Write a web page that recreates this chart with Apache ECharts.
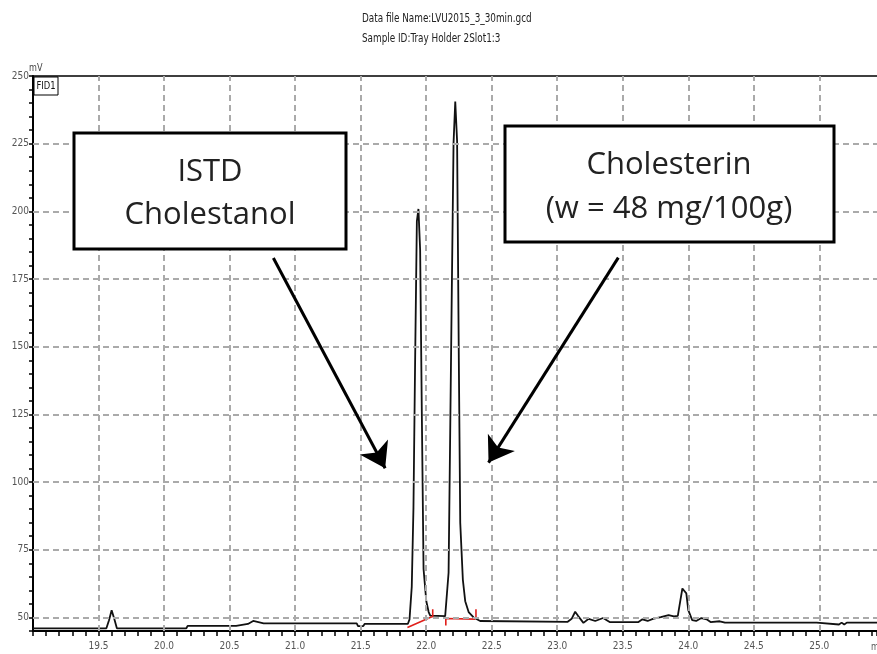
<!DOCTYPE html>
<html>
<head>
<meta charset="utf-8">
<script src="https://cdn.jsdelivr.net/npm/echarts@6.0.0/dist/echarts.min.js"></script>
<style>
  html, body { margin: 0; padding: 0; background: #fff; }
  #chart { width: 877px; height: 654px; }
</style>
</head>
<body>
<div id="chart"></div>
<script>
// retention time (min) and detector signal (mV)
var traceT = [19.00, 19.36, 19.37, 19.38, 19.56, 19.58, 19.60, 19.62, 19.64, 20.17, 20.18, 20.55, 20.56, 20.64,
  20.68, 20.72, 20.76, 21.01, 21.02, 21.03, 21.47, 21.48, 21.52, 21.53, 21.86, 21.873, 21.890, 21.903, 21.916,
  21.929, 21.941, 21.954, 21.967, 21.980, 22.001, 22.019, 22.031, 22.145, 22.158, 22.171, 22.183, 22.196,
  22.209, 22.222, 22.236, 22.249, 22.260, 22.280, 22.298, 22.324, 22.362, 22.412, 22.42, 23.08, 23.11,
  23.137, 23.16, 23.20, 23.24, 23.29, 23.35, 23.40, 23.62, 23.65, 23.69, 23.73, 23.79, 23.85, 23.89, 23.92,
  23.94, 23.955, 23.97, 23.985, 24.00, 24.03, 24.06, 24.10, 24.14, 24.17, 24.24, 24.28, 24.98, 24.995,
  25.15, 25.17, 25.19, 25.21, 25.44];
var traceV = [46.0, 46.0, 46.6, 46.0, 46.0, 49.0, 52.7, 49.5, 46.0, 46.0, 46.9, 46.9, 47.5, 47.6,
  48.7, 48.3, 47.8, 47.8, 48.2, 47.8, 47.8, 46.8, 46.8, 47.6, 47.6, 49.3, 61.3, 90.4, 146,
  196.3, 200.9, 185.7, 124.8, 67.9, 56, 52, 50.7, 50.5, 50.7, 66.5, 116.8, 172.4,
  225.4, 240.6, 226, 146, 85, 63.9, 56, 52, 50, 48.7, 48.4, 48.4, 49.5,
  52.1, 50.5, 48.0, 49.5, 48.7, 49.8, 48.3, 48.3, 49.3, 48.7, 49.5, 50.1, 50.9, 50.4, 50.6,
  56.4, 60.7, 61.1, 58.9, 52.7, 49.0, 48.7, 49.8, 49.3, 48.3, 48.6, 48.1, 48.1, 47.4,
  47.4, 48.1, 47.4, 48.1, 48.1];

// integration baselines (red), null breaks the line
var baseT = [21.857, 22.043, null, 22.05, 22.05, null, 22.145, 22.374, null, 22.15, 22.15, null, 22.38, 22.38];
var baseV = [46.3, 50.3, null, 50.0, 53.0, null, 49.6, 49.4, null, 49.6, 47.0, null, 49.5, 53.0];

// axis ticks
var xGrid = [19.5, 20.0, 20.5, 21.0, 21.5, 22.0, 22.5, 23.0, 23.5, 24.0, 24.5, 25.0];
var yGrid = [50, 75, 100, 125, 150, 175, 200, 225];

// arrows: [tailT, tailV, tipT, tipV]
var arrows = [
  [20.834, 182.8, 21.687, 105.1],
  [23.466, 182.9, 22.476, 107.2]
];

var titleLines = ['Data file Name:LVU2015_3_30min.gcd', 'Sample ID:Tray Holder 2Slot1:3'];
var box1 = ['ISTD', 'Cholestanol'];
var box2 = ['Cholesterin', '(w = 48 mg/100g)'];

var narrow = "'Liberation Sans Narrow', 'DejaVu Sans Condensed', sans-serif";
var boxFont = "'Open Sans', sans-serif";

function pairs(a, b) {
  return a.map(function (v, i) { return v === null ? [null, null] : [v, b[i]]; });
}

var chart = echarts.init(document.getElementById('chart'));

var gridLines = [];
xGrid.forEach(function (x) { gridLines.push({ xAxis: x }); });
yGrid.forEach(function (y) { gridLines.push({ yAxis: y }); });

var arrowLines = arrows.map(function (a) {
  return [{ coord: [a[0], a[1]] }, { coord: [a[2], a[3]] }];
});

function boxText(cx, cy, txt) {
  return {
    type: 'text', x: cx, y: cy, z: 101,
    style: { text: txt, font: '31px ' + boxFont, fill: '#222', align: 'center', verticalAlign: 'middle' }
  };
}

// small condensed text, squeezed to look like the instrument printout
function smallText(x, y, txt, size, color) {
  return { type: 'text', x: x, y: y, scaleX: 0.82, style: { text: txt, font: size + 'px ' + narrow, fill: color } };
}

chart.setOption({
  backgroundColor: '#fff',
  animation: false,
  grid: { left: 33, right: 0, top: 76, bottom: 23, outerBoundsMode: 'none' },
  xAxis: [{
    type: 'value', min: 19.0, max: 25.44, interval: 0.1,
    axisLine: { lineStyle: { color: '#000', width: 2 } },
    axisTick: { length: 5, lineStyle: { color: '#000', width: 1.5 } },
    splitLine: { show: false },
    axisLabel: {
      margin: 10, color: '#555', fontSize: 10, fontFamily: narrow,
      formatter: function (v) {
        var r = Math.round(v * 10) / 10;
        return (Math.abs(r * 2 - Math.round(r * 2)) < 1e-6 && r > 19.01 && r < 25.4) ? r.toFixed(1) : '';
      }
    }
  }, {
    type: 'value', position: 'top', min: 19.0, max: 25.44,
    axisLine: { lineStyle: { color: '#000', width: 1.5 } },
    axisTick: { show: false }, axisLabel: { show: false }, splitLine: { show: false }
  }],
  yAxis: {
    type: 'value', min: 45, max: 250, interval: 5,
    axisLine: { lineStyle: { color: '#000', width: 2 } },
    axisTick: { length: 4, lineStyle: { color: '#000', width: 1.5 } },
    splitLine: { show: false },
    axisLabel: {
      margin: 4, color: '#555', fontSize: 10, fontFamily: narrow,
      formatter: function (v) { return v % 25 === 0 ? String(v) : ''; }
    }
  },
  series: [{
    // dashed grid
    type: 'line', data: [], z: 1, silent: true,
    markLine: {
      silent: true, symbol: ['none', 'none'], label: { show: false },
      lineStyle: { color: '#aaa', type: [6, 4], width: 2 },
      data: gridLines
    }
  }, {
    type: 'line', data: pairs(traceT, traceV), showSymbol: false, z: 3,
    lineStyle: { color: '#111', width: 1.8 }
  }, {
    type: 'line', data: pairs(baseT, baseV), showSymbol: false, connectNulls: false, z: 4,
    lineStyle: { color: '#e0201c', width: 1.6 }
  }, {
    type: 'line', data: [], z: 5, silent: true,
    markLine: {
      silent: true, symbol: ['none', 'arrow'], symbolSize: 24, label: { show: false },
      lineStyle: { color: '#000', type: 'solid', width: 3 },
      itemStyle: { color: '#000' },
      data: arrowLines
    }
  }],
  graphic: [
    smallText(362, 13, titleLines[0], 12, '#222'),
    smallText(362, 33, titleLines[1], 12, '#222'),
    smallText(29, 63, 'mV', 11, '#444'),
    { type: 'rect', shape: { x: 34, y: 77, width: 24, height: 18 }, style: { fill: '#fff', stroke: '#000', lineWidth: 1 }, z: 100 },
    { type: 'text', x: 46, y: 86, z: 101, scaleX: 0.85, originX: 0, style: { text: 'FID1', font: '11px ' + narrow, fill: '#111', align: 'center', verticalAlign: 'middle' } },
    smallText(871, 642, 'min', 11, '#555'),
    { type: 'rect', shape: { x: 74, y: 133, width: 272, height: 116 }, style: { fill: '#fff', stroke: '#000', lineWidth: 3 }, z: 100 },
    boxText(210, 172, box1[0]),
    boxText(210, 215, box1[1]),
    { type: 'rect', shape: { x: 505, y: 126, width: 329, height: 116 }, style: { fill: '#fff', stroke: '#000', lineWidth: 3 }, z: 100 },
    boxText(669, 165, box2[0]),
    boxText(669, 209, box2[1])
  ]
});
</script>
</body>
</html>
